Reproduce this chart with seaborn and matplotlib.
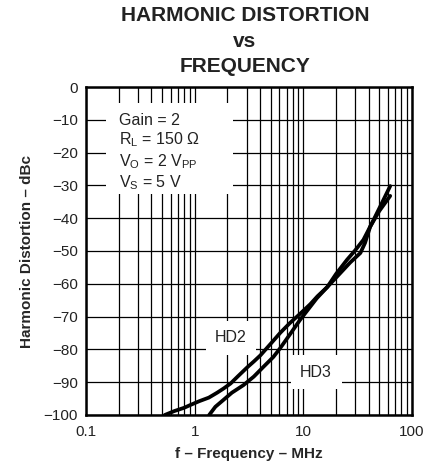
import numpy as np
import pandas as pd
import matplotlib
matplotlib.use("Agg")
import matplotlib.pyplot as plt
from matplotlib.patches import Rectangle
import seaborn as sns

# HD2 / HD3 curves (frequency in MHz, distortion in dBc)
hd2_freq = [0.53, 0.65, 0.8, 0.92, 1.1, 1.35, 1.61, 1.85, 2.14, 2.5, 3.04, 3.5, 4.03,
            5.0, 6.15, 7.5, 9.3, 11.6, 13.5, 16.6, 20, 25.2, 30, 35.7, 41.2, 50, 63]
hd2_db = [-100, -98.8, -97.8, -96.9, -95.8, -94.7, -93.2, -91.9, -90.4, -88.2, -85.5, -83.7, -81.8,
          -78.3, -74.9, -72, -69.2, -66.2, -63.8, -61, -57, -52.7, -49.8, -46.6, -42.6, -37, -30.2]

hd3_freq = [1.36, 1.55, 1.84, 2.2, 2.81, 3.5, 4.3, 5.3, 6.1, 7.5, 9.33, 11.2, 13.3,
            16.6, 21.8, 27, 33.5, 37, 41.2, 50, 63]
hd3_db = [-100, -97.5, -95.4, -93.2, -90.9, -88.3, -85.3, -82.3, -79.7, -75.5, -71, -67.6, -64.4,
          -61, -56.8, -53.5, -50.6, -47.5, -42.6, -37.8, -33.2]

x_ticks = [0.1, 1, 10, 100]
x_labels = ["0.1", "1", "10", "100"]
y_ticks = list(range(-100, 1, 10))

conditions = ["Gain = 2",
              r"R$_\mathregular{L}$ = 150 Ω",
              r"V$_\mathregular{O}$ = 2 V$_\mathregular{PP}$",
              r"V$_\mathregular{S}$ = 5 V"]

df = pd.concat([
    pd.DataFrame({"freq": hd2_freq, "db": hd2_db, "curve": "HD2"}),
    pd.DataFrame({"freq": hd3_freq, "db": hd3_db, "curve": "HD3"}),
])

sns.set_style("white")
plt.rcParams["font.family"] = ["Liberation Sans", "DejaVu Sans"]
plt.rcParams["mathtext.fontset"] = "custom"
plt.rcParams["mathtext.rm"] = "Liberation Sans"
plt.rcParams["mathtext.it"] = "Liberation Sans:italic"
plt.rcParams["mathtext.bf"] = "Liberation Sans:bold"

fig = plt.figure(figsize=(4.46, 4.67), dpi=100)
ax = fig.add_axes([86 / 446, 1 - 415 / 467, 326 / 446, 328 / 467])

sns.lineplot(data=df, x="freq", y="db", hue="curve", palette={"HD2": "black", "HD3": "black"},
             estimator=None, sort=True, legend=False, linewidth=2.7, ax=ax)

ax.set_xscale("log")
ax.set_xlim(0.1, 100)
ax.set_ylim(-100, 0)
ax.set_xticks(x_ticks)
ax.set_xticklabels(x_labels)
ax.set_xticks([m * d for d in [0.1, 1, 10] for m in range(2, 10)], minor=True)
ax.set_yticks(y_ticks)
ax.tick_params(which="both", length=0, labelsize=11, colors="#222222")
ax.tick_params(axis="x", pad=7)
ax.tick_params(axis="y", pad=6)

ax.set_axisbelow(True)
ax.grid(which="both", color="black", linewidth=0.9)
for s in ax.spines.values():
    s.set_linewidth(1.8)
    s.set_color("black")

ax.set_xlabel("f – Frequency – MHz", fontsize=11, fontweight="bold", labelpad=6)
ax.set_ylabel("Harmonic Distortion – dBc", fontsize=11, fontweight="bold", labelpad=7)

# white panel behind the test conditions (breaks the grid like the datasheet)
ax.add_patch(Rectangle((0.061, 0.674), 0.39, 0.277, transform=ax.transAxes,
                       facecolor="white", edgecolor="none", zorder=1.2))
ax.text(0.2, -7.8, "\n".join(conditions), fontsize=11.5, color="#222222", ha="left", va="top",
        linespacing=1.2, zorder=1.5)

box = dict(facecolor="white", edgecolor="none", boxstyle="square,pad=0.6")
ax.text(2.16, -76.4, "HD2", fontsize=11.5, color="#222222", ha="center", va="center",
        bbox=box, zorder=1.5)
ax.text(13.1, -87.0, "HD3", fontsize=11.5, color="#222222", ha="center", va="center",
        bbox=box, zorder=1.5)

fig.text(0.549, 1 - 6 / 467, "HARMONIC DISTORTION\nvs\nFREQUENCY", fontsize=15,
         fontweight="bold", ha="center", va="top", linespacing=1.45, color="#222222")

fig.savefig("out.png", dpi=100)
